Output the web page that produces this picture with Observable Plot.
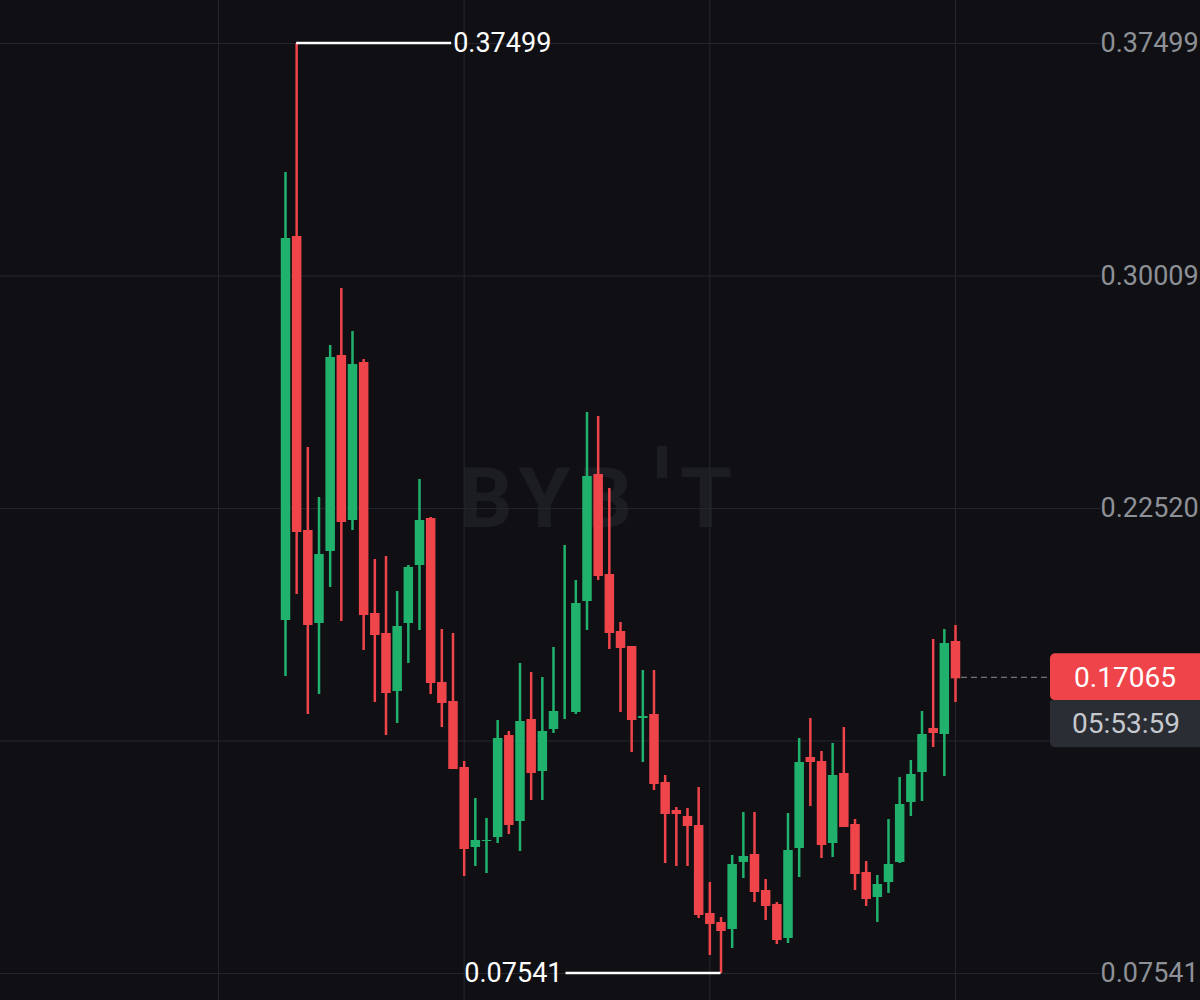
<!DOCTYPE html>
<html><head><meta charset="utf-8">
<script src="https://cdn.jsdelivr.net/npm/d3@7"></script>
<script src="https://cdn.jsdelivr.net/npm/@observablehq/plot@0.6"></script>
<style>html,body{margin:0;padding:0;background:#101014;overflow:hidden}#chart svg{display:block}</style>
</head><body><div id="chart"></div>
<script>
const opens  = [0.18880,0.31250,0.21779,0.18783,0.21103,0.27416,0.22101,0.27191,0.19105,0.18461,0.16593,0.18783,0.20652,0.22166,0.16883,0.16271,0.14145,0.11568,0.11761,0.11890,0.15175,0.12405,0.15691,0.14016,0.15369,0.15949,0.15916,0.19492,0.23583,0.20362,0.18526,0.18042,0.15723,0.15852,0.13661,0.12759,0.12566,0.12276,0.09442,0.09152,0.08926,0.11084,0.11342,0.10182,0.09731,0.08636,0.11535,0.14467,0.14338,0.11696,0.13951,0.12308,0.10762,0.09957,0.10440,0.11084,0.13017,0.13984,0.15401,0.15208,0.18203];
const highs  = [0.33344,0.37499,0.24485,0.22874,0.27771,0.29607,0.28222,0.27320,0.20877,0.20974,0.19846,0.20684,0.23454,0.22230,0.18622,0.18493,0.14370,0.13178,0.12534,0.15691,0.15337,0.17527,0.17237,0.17076,0.18042,0.21328,0.20201,0.25612,0.25484,0.23164,0.18848,0.18075,0.17301,0.17301,0.13919,0.12888,0.12856,0.13533,0.10472,0.09345,0.11342,0.12727,0.12727,0.10569,0.09828,0.12695,0.15111,0.15755,0.14692,0.14950,0.15465,0.12502,0.11149,0.10698,0.12502,0.13855,0.14402,0.15981,0.18300,0.18622,0.18751];
const lows   = [0.17108,0.19750,0.15884,0.16528,0.19975,0.18880,0.21811,0.17946,0.16271,0.15208,0.15594,0.17527,0.18590,0.16528,0.15465,0.14112,0.10666,0.10988,0.10762,0.11729,0.12019,0.11471,0.13114,0.13114,0.15272,0.15723,0.15884,0.18590,0.20201,0.17978,0.15949,0.14660,0.14338,0.13436,0.11084,0.10988,0.10988,0.09313,0.08121,0.07541,0.08346,0.10601,0.09828,0.09248,0.08475,0.08507,0.10633,0.12920,0.11245,0.11278,0.12276,0.10215,0.09699,0.09184,0.10118,0.11084,0.12598,0.13082,0.14821,0.13887,0.16271];
const closes = [0.31250,0.21779,0.18783,0.21070,0.27416,0.22101,0.27191,0.19105,0.18461,0.16593,0.18751,0.20652,0.22166,0.16915,0.16271,0.14145,0.11568,0.11858,0.11858,0.15143,0.12341,0.15691,0.14016,0.15369,0.16013,0.16013,0.19492,0.23583,0.20362,0.18526,0.18042,0.15723,0.15852,0.13661,0.12695,0.12695,0.12308,0.09442,0.09152,0.08926,0.11084,0.11342,0.10182,0.09731,0.08636,0.11535,0.14370,0.14370,0.11696,0.13951,0.12276,0.10762,0.09957,0.10440,0.11084,0.13017,0.13984,0.15272,0.15304,0.18203,0.17065];
const gridTicks = [0.37499, 0.30009, 0.22520, 0.15030, 0.07541];
const axisLabels = [0.37499, 0.30009, 0.22520, 0.07541];
const xGridIdx = [-6, 16, 38, 60];
const lastPrice = 0.17065;
const countdown = "05:53:59";
const watermarkParts = ["BYB", "T"];

const GREEN = "#20b26c", RED = "#ef454a", GRID = "#25272c", BG = "#101014";
const fmt = d3.format(".5f");

const data = opens.map((o, i) => ({i, o, h: highs[i], l: lows[i], c: closes[i]}));
const up = data.filter(d => d.c >= d.o);
const down = data.filter(d => d.c < d.o);

const plot = Plot.plot({
  width: 1200, height: 1000,
  marginLeft: 0, marginRight: 100, marginTop: 0, marginBottom: 0,
  style: {background: BG, fontFamily: "Roboto, sans-serif"},
  x: {domain: [-25.522, 72.985], axis: null},
  y: {domain: [0.06671, 0.38884]},
  marks: [
    Plot.gridY(gridTicks, {stroke: GRID, strokeOpacity: 1, strokeWidth: 1}),
    Plot.gridX(xGridIdx, {stroke: GRID, strokeOpacity: 1, strokeWidth: 1}),
    Plot.ruleX(up, {x: "i", y1: "l", y2: "h", stroke: GREEN, strokeWidth: 2.5}),
    Plot.ruleX(down, {x: "i", y1: "l", y2: "h", stroke: RED, strokeWidth: 2.5}),
    Plot.ruleX(up, {x: "i", y1: "o", y2: "c", stroke: GREEN, strokeWidth: 9.5, insetTop: -1, insetBottom: -1}),
    Plot.ruleX(down, {x: "i", y1: "o", y2: "c", stroke: RED, strokeWidth: 9.5, insetTop: -1, insetBottom: -1}),
    Plot.axisY(axisLabels, {anchor: "right", tickSize: 0, tickPadding: 0, tickFormat: fmt, fontSize: 27, fill: "#8d9097", label: null})
  ]
});
document.getElementById("chart").appendChild(plot);

const svg = d3.select(plot);
const xs = plot.scale("x"), ys = plot.scale("y");

// watermark (behind everything)
const wm = svg.insert("g", "g").attr("fill", "#1c1d22").attr("font-family", "Roboto, sans-serif").attr("font-weight", "bold").attr("font-size", 84);
wm.append("text").attr("x", 640).attr("y", 527).attr("text-anchor", "end").attr("letter-spacing", 8).text(watermarkParts[0]);
wm.append("rect").attr("x", 657).attr("y", 446).attr("width", 10).attr("height", 32);
wm.append("text").attr("x", 680).attr("y", 527).attr("text-anchor", "start").text(watermarkParts[1]);

// high / low annotations
const hiIdx = d3.maxIndex(highs), loIdx = d3.minIndex(lows);
const hx = xs.apply(hiIdx), hy = ys.apply(highs[hiIdx]);
const lx = xs.apply(loIdx), ly = ys.apply(lows[loIdx]);
const ann = svg.append("g").attr("font-family", "Roboto, sans-serif").attr("font-size", 27).attr("fill", "#ffffff");
ann.append("line").attr("x1", hx).attr("x2", hx + 155).attr("y1", hy).attr("y2", hy).attr("stroke", "#fff").attr("stroke-width", 2.5);
ann.append("text").attr("x", hx + 157).attr("y", hy).attr("dy", "0.35em").attr("text-anchor", "start").text(fmt(highs[hiIdx]));
ann.append("line").attr("x1", lx).attr("x2", lx - 155).attr("y1", ly).attr("y2", ly).attr("stroke", "#fff").attr("stroke-width", 2.5);
ann.append("text").attr("x", lx - 158).attr("y", ly).attr("dy", "0.35em").attr("text-anchor", "end").text(fmt(lows[loIdx]));

// last price line and labels
const cy = ys.apply(lastPrice);
const lastX = xs.apply(closes.length - 1);
const pl = svg.append("g").attr("font-family", "Roboto, sans-serif").attr("font-size", 28);
pl.append("line").attr("x1", lastX + 6).attr("x2", 1050).attr("y1", cy).attr("y2", cy)
  .attr("stroke", "#6f727a").attr("stroke-width", 1.2).attr("stroke-dasharray", "6,4");
pl.append("rect").attr("x", 1050).attr("y", cy - 24).attr("width", 160).attr("height", 47).attr("rx", 5).attr("fill", RED);
pl.append("rect").attr("x", 1050).attr("y", cy + 23).attr("width", 160).attr("height", 47).attr("rx", 5).attr("fill", "#2a2d33");
pl.append("rect").attr("x", 1050).attr("y", cy + 23).attr("width", 160).attr("height", 8).attr("fill", "#2a2d33");
pl.append("text").attr("x", 1125).attr("y", cy).attr("dy", "0.35em").attr("text-anchor", "middle").attr("fill", "#ffffff").text(fmt(lastPrice));
pl.append("text").attr("x", 1126).attr("y", cy + 46).attr("dy", "0.35em").attr("text-anchor", "middle").attr("fill", "#c5c8ce").text(countdown);
</script></body></html>
